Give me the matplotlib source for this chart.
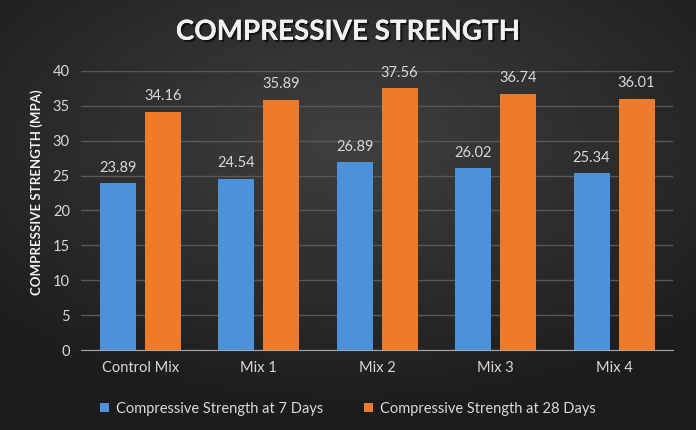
import numpy as np
import matplotlib.pyplot as plt
import matplotlib.patheffects as pe

categories = ["Control Mix", "Mix 1", "Mix 2", "Mix 3", "Mix 4"]
days7 = [23.89, 24.54, 26.89, 26.02, 25.34]
days28 = [34.16, 35.89, 37.56, 36.74, 36.01]
series_names = ["Compressive Strength at 7 Days", "Compressive Strength at 28 Days"]

FONT = "Lato"
TXT = "#d9d9d9"
BLUE = "#4b92db"
ORANGE = "#ee7a2c"

fig = plt.figure(figsize=(6.96, 4.30), dpi=100)

# dark radial background
bg = fig.add_axes([0, 0, 1, 1], zorder=-10)
yy, xx = np.mgrid[-1:1:430j, -1:1:696j]
r = np.sqrt((xx * 0.9) ** 2 + ((yy + 0.35) * 1.0) ** 2)
shade = np.clip(0.25 - 0.11 * r, 0.11, 0.25)
bg.imshow(np.dstack([shade] * 3), aspect="auto", extent=[0, 1, 0, 1])
bg.axis("off")

ax = fig.add_axes([0.1164, 0.186, 0.851, 0.649])
ax.set_facecolor("none")

x = np.arange(len(categories))
w = 0.305
off = 0.19
b1 = ax.bar(x - off, days7, w, color=BLUE, label=series_names[0], zorder=3)
b2 = ax.bar(x + off, days28, w, color=ORANGE, label=series_names[1], zorder=3)

for bars, vals in ((b1, days7), (b2, days28)):
    for rect, v in zip(bars, vals):
        ax.annotate(f"{v:.2f}", (rect.get_x() + rect.get_width() / 2, v),
                    xytext=(0, 6), textcoords="offset points", ha="center", va="bottom",
                    color=TXT, fontsize=10.5, family=FONT)

ax.set_xlim(-0.5, len(categories) - 0.5)
ax.set_ylim(0, 40)
ax.set_yticks(range(0, 41, 5))
ax.set_xticks(x)
ax.set_xticklabels(categories)
ax.grid(axis="y", color="#585858", linewidth=1, zorder=0)
ax.tick_params(length=0, colors=TXT, labelsize=10.5, pad=8)
for lab in ax.get_xticklabels() + ax.get_yticklabels():
    lab.set_family(FONT)
for s in ("top", "right", "left"):
    ax.spines[s].set_visible(False)
ax.spines["bottom"].set_color("#a6a6a6")
ax.spines["bottom"].set_zorder(4)

ax.set_ylabel("COMPRESSIVE STRENGTH (MPA)", color="#f2f2f2", fontsize=9.5,
              fontweight="bold", family=FONT)
ax.yaxis.set_label_coords(-0.065, 0.566)

fig.text(0.5, 0.926, "COMPRESSIVE STRENGTH", ha="center", va="center", color="#f2f2f2",
         fontsize=20, fontweight="bold", family=FONT,
         path_effects=[pe.withSimplePatchShadow(offset=(1.5, -1.5), shadow_rgbFace="black", alpha=0.6), pe.Normal()])

leg = fig.legend(loc="center", bbox_to_anchor=(0.5, 0.05), ncol=2, frameon=False,
                 prop={"family": FONT, "size": 10.5}, handlelength=0.6, handleheight=0.6,
                 handletextpad=0.5, columnspacing=2.8)
for t in leg.get_texts():
    t.set_color(TXT)

fig.savefig("out.png", dpi=100, facecolor="#2a2a2a")
